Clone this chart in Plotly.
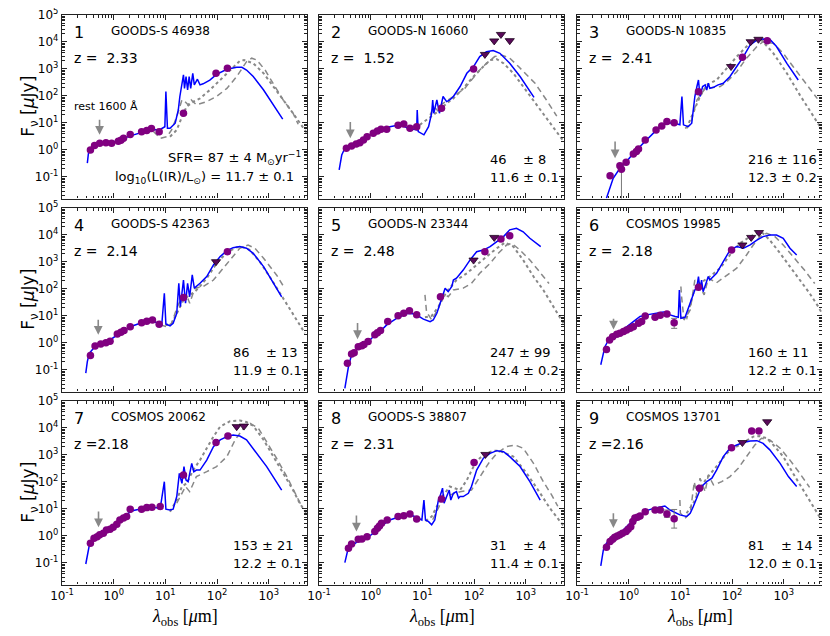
import numpy as np
import plotly.graph_objects as go

# Valeurs : (log10 lambda [um], log10 F_nu [uJy])
NAMES = ["GOODS-S 46938", "GOODS-N 16060", "GOODS-N 10835",
         "GOODS-S 42363", "GOODS-N 23344", "COSMOS 19985",
         "COSMOS 20062", "GOODS-S 38807", "COSMOS 13701"]
REDSHIFT = [2.33, 1.52, 2.41, 2.14, 2.48, 2.18, 2.18, 2.31, 2.16]
Z_GAP = [2, 2, 2, 2, 2, 2, 0, 2, 0]
SFR = [87, 46, 216, 86, 247, 160, 153, 31, 81]
SFR_ERR = [4, 8, 116, 13, 99, 11, 21, 4, 14]
LIR = [11.7, 11.6, 12.3, 11.9, 12.4, 12.2, 12.2, 11.4, 12.0]
LIR_ERR = [0.1, 0.1, 0.2, 0.1, 0.2, 0.1, 0.1, 0.1, 0.1]
ARROW_TOP = [1.17, 1.09, 0.37, 0.91, 0.79, 0.95, 0.96, 0.81, 0.90]
ARROW_TIP = [0.56, 0.43, -0.31, 0.30, 0.14, 0.50, 0.32, 0.16, 0.29]
X_EXP = [-1, 0, 1, 2, 3]
Y_EXP = [-1, 0, 1, 2, 3, 4, 5]
MINOR_EXP = [-2, -1, 0, 1, 2, 3, 4]
MINOR_MANT = [2, 3, 4, 5, 6, 7, 8, 9]

MODEL_1 = [(-0.51, -0.49), (-0.49, -0.15), (-0.45, 0.05), (-0.40, 0.12), (-0.36, 0.16), (-0.27, 0.22),
           (-0.14, 0.27), (0.06, 0.32), (0.32, 0.52), (0.51, 0.64), (0.70, 0.74), (0.90, 0.76),
           (0.99, 0.86), (1.01, 2.16), (1.04, 0.80), (1.09, 0.80), (1.19, 0.99), (1.25, 1.48),
           (1.28, 1.98), (1.35, 2.78), (1.37, 2.28), (1.40, 2.72), (1.43, 2.22), (1.46, 2.72),
           (1.49, 2.28), (1.53, 2.84), (1.56, 2.41), (1.62, 2.62), (1.67, 2.41), (1.73, 2.45),
           (1.86, 2.59), (1.99, 2.80), (2.19, 2.99), (2.38, 3.06), (2.48, 3.06), (2.57, 2.96),
           (2.70, 2.72), (2.90, 2.22), (3.09, 1.67), (3.27, 1.14)]
DASH_1 = [(0.77, 0.68), (0.90, 0.43), (1.03, 0.49), (1.12, 0.74), (1.22, 1.23), (1.32, 1.85),
          (1.38, 1.79), (1.44, 1.67), (1.50, 1.85), (1.60, 1.67), (1.80, 1.79), (1.99, 1.98),
          (2.19, 2.28), (2.38, 2.72), (2.57, 3.27), (2.67, 3.40), (2.77, 3.33), (2.93, 2.96),
          (3.12, 2.35), (3.28, 1.85), (3.47, 1.36), (3.57, 0.95)]
DOT_1 = [(1.09, 0.49), (1.22, 0.74), (1.32, 1.23), (1.41, 1.60), (1.54, 1.79), (1.67, 1.91),
         (1.86, 2.22), (2.06, 2.59), (2.25, 2.96), (2.44, 3.30), (2.52, 3.33), (2.62, 3.25),
         (2.70, 3.21), (2.90, 2.84), (3.09, 2.35), (3.28, 1.85), (3.47, 1.36), (3.74, 0.62)]
PHOT_1 = [(-0.45, 0.0), (-0.37, 0.16), (-0.27, 0.25), (-0.15, 0.27), (-0.04, 0.25), (0.09, 0.32),
          (0.14, 0.36), (0.19, 0.43), (0.32, 0.57), (0.54, 0.67), (0.64, 0.72), (0.73, 0.79),
          (0.88, 0.67), (1.35, 1.36), (1.98, 2.84), (2.20, 3.03)]
LIMIT_1 = []
ERRBAR_1 = []

MODEL_2 = [(-0.61, -0.74), (-0.59, -0.49), (-0.56, -0.19), (-0.50, 0.06), (-0.40, 0.12), (-0.21, 0.31),
           (-0.01, 0.56), (0.18, 0.74), (0.37, 0.86), (0.57, 0.93), (0.73, 0.80), (0.89, 0.74),
           (0.90, 1.48), (0.92, 0.68), (1.03, 0.56), (1.12, 0.86), (1.18, 1.36), (1.20, 1.85),
           (1.22, 1.36), (1.28, 1.85), (1.33, 1.36), (1.40, 1.98), (1.44, 1.85), (1.47, 1.79),
           (1.53, 1.85), (1.60, 1.98), (1.73, 2.35), (1.86, 2.84), (1.99, 3.09), (2.11, 3.46),
           (2.24, 3.64), (2.37, 3.68), (2.50, 3.58), (2.69, 3.21), (2.89, 2.72), (3.16, 1.95)]
DASH_2 = [(1.15, 1.30), (1.22, 1.60), (1.30, 1.45), (1.38, 1.70), (1.50, 1.85), (1.82, 2.28),
          (1.95, 2.59), (2.11, 2.96), (2.24, 3.21), (2.40, 3.46), (2.53, 3.52), (2.69, 3.40),
          (2.86, 3.09), (3.02, 2.78), (3.18, 2.47), (3.40, 1.85), (3.60, 1.25)]
DOT_2 = [(0.95, 0.93), (1.08, 1.11), (1.21, 1.30), (1.34, 1.48), (1.47, 1.73), (1.60, 1.91),
         (1.79, 2.28), (1.99, 2.72), (2.18, 3.09), (2.31, 3.33), (2.44, 3.36), (2.57, 3.21),
         (2.76, 2.84), (2.95, 2.35), (3.15, 1.85), (3.34, 1.36), (3.47, 0.99), (3.74, 0.30)]
PHOT_2 = [(-0.47, 0.06), (-0.37, 0.15), (-0.28, 0.22), (-0.21, 0.27), (-0.14, 0.37), (-0.07, 0.49),
          (0.05, 0.62), (0.13, 0.70), (0.20, 0.77), (0.31, 0.77), (0.53, 0.91), (0.64, 0.96),
          (0.76, 0.80), (0.89, 0.86), (1.37, 1.54), (1.99, 3.00)]
LIMIT_2 = [(2.21, 3.54), (2.39, 4.04), (2.52, 4.28), (2.69, 4.05)]
ERRBAR_2 = []

MODEL_3 = [(-0.43, -1.79), (-0.36, -1.36), (-0.30, -1.05), (-0.17, -0.68), (-0.04, -0.43), (0.09, -0.12),
           (0.22, 0.12), (0.35, 0.37), (0.54, 0.74), (0.74, 0.99), (0.86, 1.01), (0.99, 0.93),
           (1.03, 1.98), (1.06, 0.93), (1.15, 0.86), (1.22, 0.99), (1.25, 1.48), (1.28, 1.98),
           (1.32, 2.35), (1.35, 2.59), (1.38, 1.98), (1.43, 2.35), (1.48, 2.41), (1.51, 2.22),
           (1.54, 2.47), (1.57, 2.28), (1.64, 2.32), (1.73, 2.41), (1.83, 2.47), (1.96, 2.72),
           (2.09, 3.09), (2.22, 3.46), (2.35, 3.89), (2.48, 4.07), (2.60, 4.11), (2.73, 4.10),
           (2.86, 3.83), (3.06, 3.21), (3.28, 2.59)]
DASH_3 = [(1.09, 0.80), (1.19, 0.93), (1.32, 1.85), (1.48, 2.28), (1.77, 2.35), (1.90, 2.53),
          (2.09, 2.90), (2.28, 3.40), (2.48, 3.83), (2.60, 4.01), (2.80, 3.95), (2.99, 3.58),
          (3.18, 3.09), (3.45, 2.40), (3.65, 1.90)]
DOT_3 = [(1.12, 0.80), (1.25, 1.36), (1.38, 1.98), (1.51, 2.41), (1.70, 2.59), (1.90, 3.03),
         (2.09, 3.46), (2.28, 3.83), (2.44, 4.07), (2.57, 4.07), (2.80, 3.58), (3.06, 2.84),
         (3.31, 2.04), (3.64, 1.05), (3.74, 0.75)]
PHOT_3 = [(-0.36, -0.96), (-0.17, -0.59), (-0.14, -0.72), (-0.05, -0.46), (0.09, -0.15), (0.15, -0.06),
          (0.19, 0.03), (0.32, 0.37), (0.53, 0.74), (0.64, 0.89), (0.74, 1.05), (0.88, 1.01),
          (1.35, 2.16), (2.20, 3.43), (2.68, 4.05)]
LIMIT_3 = [(1.98, 3.09), (2.36, 4.01), (2.51, 4.10)]
ERRBAR_3 = [(-0.14, -0.72, -2.5, -0.56)]

MODEL_4 = [(-0.54, -1.12), (-0.51, -0.69), (-0.47, -0.38), (-0.39, -0.20), (-0.27, -0.04), (-0.07, 0.11),
           (0.12, 0.36), (0.32, 0.60), (0.51, 0.73), (0.70, 0.82), (0.83, 0.76), (0.93, 0.67),
           (0.98, 1.84), (1.01, 0.70), (1.09, 0.63), (1.15, 0.73), (1.22, 1.10), (1.26, 2.21),
           (1.29, 1.34), (1.35, 2.33), (1.39, 1.47), (1.43, 2.21), (1.47, 1.71), (1.52, 2.52),
           (1.56, 2.03), (1.67, 2.21), (1.80, 2.46), (1.93, 2.89), (2.06, 3.20), (2.19, 3.42),
           (2.31, 3.53), (2.44, 3.57), (2.57, 3.51), (2.70, 3.32), (2.90, 2.83), (3.09, 2.21),
           (3.25, 1.71)]
DASH_4 = [(0.90, 0.67), (1.03, 0.60), (1.12, 0.73), (1.22, 1.28), (1.32, 1.71), (1.41, 1.78),
          (1.47, 1.47), (1.57, 2.03), (1.73, 2.09), (1.93, 2.33), (2.12, 2.77), (2.31, 3.20),
          (2.44, 3.51), (2.60, 3.63), (2.73, 3.51), (2.90, 3.14), (3.15, 2.52), (3.30, 2.05)]
DOT_4 = [(1.00, 0.65), (1.12, 0.72), (1.25, 1.20), (1.35, 1.60), (1.45, 1.75), (1.57, 1.90),
         (1.67, 2.10), (1.80, 2.40), (1.99, 2.95), (2.19, 3.35), (2.38, 3.55), (2.50, 3.55),
         (2.63, 3.45), (2.83, 3.00), (3.02, 2.45), (3.25, 1.75), (3.41, 1.22), (3.57, 0.73),
         (3.70, 0.36)]
PHOT_4 = [(-0.45, -0.47), (-0.36, -0.11), (-0.25, -0.04), (-0.15, 0.01), (-0.07, 0.06), (0.07, 0.33),
          (0.14, 0.40), (0.20, 0.46), (0.32, 0.60), (0.54, 0.75), (0.64, 0.80), (0.75, 0.85),
          (0.88, 0.69), (1.35, 1.68), (2.20, 3.38)]
LIMIT_4 = [(1.98, 3.01)]
ERRBAR_4 = []

MODEL_5 = [(-0.50, -1.68), (-0.47, -1.25), (-0.43, -0.88), (-0.37, -0.44), (-0.27, -0.26), (-0.21, -0.14),
           (-0.08, -0.01), (0.05, 0.23), (0.18, 0.42), (0.31, 0.67), (0.50, 0.91), (0.70, 1.10),
           (0.86, 1.07), (1.02, 0.88), (1.15, 0.79), (1.21, 0.85), (1.28, 1.10), (1.34, 1.47),
           (1.41, 1.90), (1.44, 2.03), (1.50, 1.90), (1.57, 2.09), (1.60, 2.33), (1.66, 2.40),
           (1.79, 2.70), (1.92, 3.07), (2.05, 3.38), (2.18, 3.44), (2.31, 3.57), (2.44, 3.75),
           (2.57, 3.94), (2.69, 4.19), (2.82, 4.25), (2.95, 4.12), (3.08, 3.88), (3.29, 3.57)]
DASH_5 = [(1.05, 1.78), (1.08, 1.16), (1.18, 0.85), (1.31, 1.28), (1.41, 1.84), (1.50, 1.71),
          (1.60, 1.96), (1.79, 2.03), (1.95, 2.21), (2.11, 2.58), (2.31, 2.95), (2.47, 3.32),
          (2.63, 3.63), (2.73, 3.69), (2.89, 3.44), (3.08, 3.07), (3.24, 2.70), (3.45, 2.20)]
DOT_5 = [(1.05, 0.95), (1.18, 1.00), (1.31, 1.34), (1.47, 1.90), (1.66, 2.33), (1.86, 2.58),
         (2.05, 2.89), (2.24, 3.20), (2.44, 3.51), (2.60, 3.72), (2.76, 3.57), (2.95, 3.07),
         (3.15, 2.46), (3.34, 1.96), (3.53, 1.34), (3.73, 0.73)]
PHOT_5 = [(-0.45, -0.75), (-0.37, -0.41), (-0.32, -0.36), (-0.24, -0.14), (-0.17, -0.10), (-0.13, -0.06),
          (-0.05, 0.05), (0.08, 0.30), (0.13, 0.38), (0.19, 0.46), (0.33, 0.79), (0.53, 1.01),
          (0.64, 1.10), (0.75, 1.19), (0.89, 1.04), (1.35, 1.71), (2.21, 3.38), (2.52, 3.85),
          (2.69, 3.97)]
LIMIT_5 = [(1.99, 3.07), (2.39, 3.91)]
ERRBAR_5 = []

MODEL_6 = [(-0.54, -0.81), (-0.50, -0.51), (-0.46, -0.14), (-0.39, 0.11), (-0.30, 0.23), (-0.17, 0.42),
           (-0.04, 0.60), (0.09, 0.79), (0.22, 0.98), (0.35, 1.04), (0.54, 1.10), (0.67, 1.15),
           (0.74, 1.12), (0.80, 1.04), (0.90, 0.98), (0.96, 0.95), (0.98, 1.96), (1.01, 0.91),
           (1.09, 0.95), (1.15, 1.28), (1.22, 1.71), (1.28, 1.96), (1.32, 2.09), (1.35, 2.46),
           (1.38, 1.96), (1.41, 2.33), (1.44, 1.90), (1.51, 2.33), (1.54, 2.46), (1.57, 2.33),
           (1.64, 2.46), (1.70, 2.58), (1.83, 3.01), (1.96, 3.44), (2.09, 3.57), (2.22, 3.51),
           (2.35, 3.63), (2.48, 3.81), (2.60, 3.94), (2.73, 4.00), (2.86, 4.00), (2.99, 3.88),
           (3.12, 3.51), (3.25, 3.26)]
DASH_6 = [(1.01, 2.09), (1.02, 1.78), (1.07, 0.85), (1.19, 1.22), (1.28, 2.33), (1.38, 2.09),
          (1.46, 1.78), (1.54, 2.40), (1.70, 2.23), (1.90, 2.52), (2.09, 2.77), (2.28, 3.26),
          (2.41, 3.63), (2.54, 3.94), (2.67, 4.06), (2.83, 3.94), (2.99, 3.63), (3.18, 3.20),
          (3.40, 2.70), (3.60, 2.20)]
DOT_6 = [(1.00, 0.95), (1.12, 0.91), (1.25, 1.84), (1.38, 2.21), (1.57, 2.46), (1.77, 2.77),
         (1.96, 3.26), (2.15, 3.69), (2.35, 3.94), (2.51, 4.09), (2.60, 4.06), (2.73, 3.81),
         (2.93, 3.32), (3.12, 2.83), (3.31, 2.33), (3.50, 1.84), (3.67, 1.34), (3.77, 0.98)]
PHOT_6 = [(-0.43, -0.24), (-0.37, 0.11), (-0.31, 0.23), (-0.23, 0.32), (-0.17, 0.36), (-0.10, 0.42),
          (-0.04, 0.48), (0.03, 0.54), (0.09, 0.60), (0.19, 0.73), (0.25, 0.79), (0.32, 1.00),
          (0.51, 0.95), (0.61, 1.03), (0.74, 1.07), (0.88, 0.75), (1.35, 2.06), (1.99, 3.44)]
LIMIT_6 = [(2.20, 3.63), (2.37, 3.91), (2.52, 4.09)]
ERRBAR_6 = [(0.88, 0.75, 0.54, 0.91)]

MODEL_7 = [(-0.54, -1.04), (-0.51, -0.77), (-0.47, -0.33), (-0.39, -0.15), (-0.27, -0.03), (-0.14, 0.16),
           (-0.01, 0.34), (0.12, 0.59), (0.25, 0.81), (0.38, 0.94), (0.57, 1.02), (0.77, 1.06),
           (0.90, 1.02), (0.98, 2.01), (1.01, 0.99), (1.09, 0.96), (1.15, 0.99), (1.22, 1.46),
           (1.27, 2.32), (1.32, 1.95), (1.36, 2.57), (1.40, 2.07), (1.44, 2.01), (1.51, 2.69),
           (1.55, 2.38), (1.60, 2.44), (1.67, 2.44), (1.80, 2.81), (1.93, 3.31), (2.06, 3.56),
           (2.19, 3.68), (2.31, 3.74), (2.44, 3.70), (2.57, 3.56), (2.77, 3.06), (2.96, 2.57),
           (3.25, 1.70)]
DASH_7 = [(1.22, 1.21), (1.39, 1.83), (1.47, 1.64), (1.60, 2.20), (1.80, 2.38), (1.99, 2.57),
          (2.19, 2.94), (2.35, 3.56), (2.51, 3.99), (2.64, 4.17), (2.80, 3.99), (2.96, 3.49),
          (3.15, 2.88), (3.35, 2.20), (3.54, 1.46), (3.65, 1.05)]
DOT_7 = [(1.09, 0.90), (1.22, 1.33), (1.32, 1.83), (1.41, 1.95), (1.54, 2.44), (1.67, 2.81),
         (1.80, 3.25), (1.93, 3.68), (2.06, 4.05), (2.25, 4.25), (2.44, 4.28), (2.57, 4.22),
         (2.70, 4.08), (2.90, 3.56), (3.09, 2.94), (3.28, 2.32), (3.47, 1.70), (3.60, 1.21),
         (3.74, 0.80)]
PHOT_7 = [(-0.45, -0.27), (-0.38, -0.09), (-0.32, -0.03), (-0.27, 0.04), (-0.20, 0.10), (-0.14, 0.22),
          (-0.07, 0.25), (-0.01, 0.32), (0.06, 0.43), (0.12, 0.59), (0.19, 0.66), (0.25, 0.72),
          (0.32, 0.99), (0.54, 0.99), (0.64, 1.05), (0.74, 1.06), (0.90, 1.09), (1.35, 2.26),
          (1.98, 3.46), (2.21, 3.70)]
LIMIT_7 = [(2.38, 4.05), (2.52, 4.07)]
ERRBAR_7 = []

MODEL_8 = [(-0.50, -0.99), (-0.48, -0.77), (-0.45, -0.58), (-0.40, -0.46), (-0.34, -0.33), (-0.21, -0.15),
           (-0.08, -0.09), (0.05, 0.10), (0.18, 0.34), (0.37, 0.59), (0.57, 0.72), (0.76, 0.78),
           (0.89, 0.69), (0.99, 0.59), (1.03, 1.33), (1.06, 0.59), (1.12, 0.53), (1.18, 0.41),
           (1.24, 0.59), (1.31, 1.33), (1.34, 1.46), (1.39, 1.77), (1.42, 1.21), (1.47, 1.46),
           (1.52, 1.70), (1.55, 1.33), (1.60, 1.58), (1.66, 1.64), (1.70, 1.40), (1.73, 1.46),
           (1.79, 1.46), (1.89, 1.58), (1.95, 1.83), (2.05, 2.44), (2.18, 2.88), (2.31, 3.06),
           (2.44, 3.16), (2.57, 3.12), (2.69, 2.94), (2.89, 2.57), (3.08, 2.01), (3.28, 1.33)]
DASH_8 = [(1.20, 0.60), (1.35, 1.20), (1.50, 1.50), (1.73, 1.64), (1.95, 1.70), (2.11, 2.20),
          (2.28, 2.69), (2.44, 3.06), (2.63, 3.31), (2.79, 3.37), (2.95, 3.25), (3.15, 2.69),
          (3.34, 2.01), (3.50, 1.52), (3.62, 1.10)]
DOT_8 = [(1.06, 0.55), (1.18, 0.72), (1.28, 1.09), (1.41, 1.52), (1.53, 1.83), (1.73, 1.70),
         (1.86, 2.07), (1.99, 2.57), (2.11, 2.88), (2.24, 3.06), (2.37, 3.16), (2.50, 3.15),
         (2.76, 2.94), (3.02, 2.32), (3.28, 1.58), (3.47, 1.02), (3.74, 0.35)]
PHOT_8 = [(-0.43, -0.46), (-0.37, -0.30), (-0.24, -0.12), (-0.17, -0.11), (-0.07, -0.03), (0.08, 0.16),
          (0.13, 0.28), (0.17, 0.37), (0.21, 0.47), (0.32, 0.59), (0.53, 0.72), (0.64, 0.75),
          (0.76, 0.81), (0.89, 0.63), (1.37, 1.37), (2.00, 2.72)]
LIMIT_8 = [(2.22, 3.02)]
ERRBAR_8 = []

MODEL_9 = [(-0.54, -1.11), (-0.52, -0.83), (-0.49, -0.52), (-0.43, -0.27), (-0.33, -0.09), (-0.17, 0.10),
           (-0.04, 0.34), (0.09, 0.59), (0.22, 0.78), (0.35, 0.94), (0.48, 1.02), (0.61, 1.06),
           (0.70, 1.11), (0.80, 0.96), (0.90, 0.86), (0.99, 0.78), (1.12, 0.72), (1.19, 0.84),
           (1.25, 1.09), (1.32, 1.40), (1.38, 1.70), (1.44, 1.89), (1.51, 2.01), (1.61, 2.14),
           (1.70, 2.44), (1.83, 2.94), (1.96, 3.25), (2.09, 3.37), (2.22, 3.46), (2.35, 3.52),
           (2.48, 3.53), (2.60, 3.43), (2.73, 3.19), (2.93, 2.69), (3.09, 2.20), (3.25, 1.83)]
DASH_9 = [(0.99, 1.33), (1.00, 0.84), (1.09, 0.66), (1.19, 0.84), (1.27, 2.01), (1.32, 1.46),
          (1.38, 2.14), (1.48, 1.64), (1.54, 2.26), (1.64, 1.89), (1.80, 2.01), (1.96, 2.20),
          (2.12, 2.51), (2.28, 2.94), (2.44, 3.37), (2.57, 3.62), (2.73, 3.56), (2.93, 3.25),
          (3.12, 2.81), (3.31, 2.32), (3.50, 1.80)]
DOT_9 = [(1.12, 0.84), (1.25, 1.21), (1.38, 1.77), (1.51, 2.14), (1.64, 2.44), (1.77, 2.75),
         (1.90, 3.06), (2.02, 3.25), (2.15, 3.37), (2.28, 3.53), (2.41, 3.68), (2.54, 3.70),
         (2.67, 3.62), (2.80, 3.37), (2.99, 2.94), (3.18, 2.32), (3.38, 1.70), (3.57, 1.09),
         (3.73, 0.59)]
PHOT_9 = [(-0.43, -0.42), (-0.36, -0.21), (-0.31, -0.12), (-0.27, -0.05), (-0.22, 0.00), (-0.17, 0.04),
          (-0.12, 0.10), (-0.05, 0.16), (-0.01, 0.25), (0.04, 0.34), (0.08, 0.53), (0.12, 0.66),
          (0.17, 0.69), (0.22, 0.74), (0.32, 0.90), (0.51, 0.96), (0.61, 0.96), (0.74, 0.81),
          (0.88, 0.64), (1.37, 1.77), (1.99, 3.27), (2.38, 3.89), (2.52, 3.89)]
LIMIT_9 = [(2.20, 3.46), (2.68, 4.23)]
ERRBAR_9 = [(0.74, 0.81, 0.69, 0.96), (0.88, 0.64, 0.29, 0.98)]

MODELS = [MODEL_1, MODEL_2, MODEL_3, MODEL_4, MODEL_5, MODEL_6, MODEL_7, MODEL_8, MODEL_9]
DASHES = [DASH_1, DASH_2, DASH_3, DASH_4, DASH_5, DASH_6, DASH_7, DASH_8, DASH_9]
DOTS = [DOT_1, DOT_2, DOT_3, DOT_4, DOT_5, DOT_6, DOT_7, DOT_8, DOT_9]
PHOTS = [PHOT_1, PHOT_2, PHOT_3, PHOT_4, PHOT_5, PHOT_6, PHOT_7, PHOT_8, PHOT_9]
LIMITS = [LIMIT_1, LIMIT_2, LIMIT_3, LIMIT_4, LIMIT_5, LIMIT_6, LIMIT_7, LIMIT_8, LIMIT_9]
ERRBARS = [ERRBAR_1, ERRBAR_2, ERRBAR_3, ERRBAR_4, ERRBAR_5, ERRBAR_6, ERRBAR_7, ERRBAR_8, ERRBAR_9]

# Mise en page, en pixels de la page (la page HTML ajoute une marge de 8 px)
PAGE = 8
W, H = 830 - PAGE, 636 - PAGE
COLS = [(62, 307), (319, 564), (577, 822)]
ROWS = [(15, 198.5), (208, 391.5), (401, 584.5)]
FONT = "DejaVu Sans"
NBSP = "\u00a0"


def px_x(p):
    return (p - PAGE) / W


def px_y(p):
    return 1 - (p - PAGE) / H


def lin(pts, k):
    return 10 ** np.array([p[k] for p in pts], dtype=float)


def sup(e):
    return f"10<sup>{e}</sup>"


minor_vals = [m * 10.0 ** e for e in MINOR_EXP for m in MINOR_MANT]

fig = go.Figure()
annotations = []
layout = {}

for i in range(9):
    r, c = divmod(i, 3)
    n = "" if i == 0 else str(i + 1)
    xa, ya = "x" + n, "y" + n

    common = dict(showline=True, linecolor="#222", linewidth=1.3, mirror="allticks",
                  ticks="inside", ticklen=5, tickcolor="#222", showgrid=False,
                  zeroline=False, type="log", tickmode="array", ticklabeloverflow="allow",
                  tickfont=dict(family=FONT, size=12, color="black"),
                  minor=dict(ticks="inside", ticklen=2.5, tickcolor="#222", showgrid=False,
                             tickmode="array", tickvals=minor_vals))
    layout["xaxis" + n] = dict(common, domain=[px_x(COLS[c][0]), px_x(COLS[c][1])],
                               range=[-1, 3.74], anchor=ya, showticklabels=(r == 2),
                               tickvals=[10.0 ** e for e in X_EXP],
                               ticktext=[sup(e) for e in X_EXP])
    layout["yaxis" + n] = dict(common, domain=[px_y(ROWS[r][1]), px_y(ROWS[r][0])],
                               range=[-1.8, 5], anchor=xa, showticklabels=(c == 0),
                               tickvals=[10.0 ** e for e in Y_EXP],
                               ticktext=[sup(e) for e in Y_EXP])

    fig.add_trace(go.Scatter(x=lin(DOTS[i], 0), y=lin(DOTS[i], 1), mode="lines",
                             line=dict(color="#888", width=2, dash="dot"),
                             xaxis=xa, yaxis=ya, showlegend=False))
    fig.add_trace(go.Scatter(x=lin(DASHES[i], 0), y=lin(DASHES[i], 1), mode="lines",
                             line=dict(color="#888", width=1.5, dash="6px,4px"),
                             xaxis=xa, yaxis=ya, showlegend=False))
    fig.add_trace(go.Scatter(x=lin(MODELS[i], 0), y=lin(MODELS[i], 1), mode="lines",
                             line=dict(color="#0000ff", width=1.5),
                             xaxis=xa, yaxis=ya, showlegend=False))
    if ERRBARS[i]:
        eb = ERRBARS[i]
        yv = lin(eb, 1)
        fig.add_trace(go.Scatter(
            x=lin(eb, 0), y=yv, mode="markers", marker=dict(size=1, color="rgba(0,0,0,0)"),
            error_y=dict(type="data", symmetric=False, array=lin(eb, 3) - yv,
                         arrayminus=yv - lin(eb, 2), color="#777", thickness=1, width=3),
            xaxis=xa, yaxis=ya, showlegend=False))
    fig.add_trace(go.Scatter(x=lin(PHOTS[i], 0), y=lin(PHOTS[i], 1), mode="markers",
                             marker=dict(color="#800080", size=7.5),
                             xaxis=xa, yaxis=ya, showlegend=False))
    if LIMITS[i]:
        fig.add_trace(go.Scatter(x=lin(LIMITS[i], 0), y=lin(LIMITS[i], 1), mode="markers",
                                 marker=dict(symbol="triangle-down", color="#5a0a5a", size=8,
                                             line=dict(color="#1a001a", width=0.8)),
                                 xaxis=xa, yaxis=ya, showlegend=False))

    # flèche rest 1600 A
    xarr = np.log10(0.16 * (1 + REDSHIFT[i]))
    annotations.append(dict(x=xarr, y=ARROW_TIP[i], ax=xarr, ay=ARROW_TOP[i],
                            xref=xa, yref=ya, axref=xa, ayref=ya, text="",
                            showarrow=True, arrowhead=2, arrowsize=1.1,
                            arrowwidth=1.6, arrowcolor="#888"))

    dx, dy = xa + " domain", ya + " domain"
    txt = dict(xref=dx, yref=dy, showarrow=False, xanchor="left", yanchor="middle")
    annotations.append(dict(txt, x=0.04, y=0.905, text=str(i + 1),
                            font=dict(family=FONT, size=16, color="black")))
    annotations.append(dict(txt, x=0.19, y=0.915, text=NAMES[i],
                            font=dict(family=FONT, size=12, color="black")))
    annotations.append(dict(txt, x=0.04, y=0.765,
                            text="z =" + NBSP * Z_GAP[i] + f"{REDSHIFT[i]:.2f}",
                            font=dict(family=FONT, size=14, color="black")))
    if i == 0:
        annotations.append(dict(txt, x=0.04, y=0.50, text="rest 1600 Å",
                                font=dict(family=FONT, size=11, color="black")))
        annotations.append(dict(txt, x=0.985, y=0.22, xanchor="right",
                                text=f"SFR= {SFR[i]} ± {SFR_ERR[i]} M<sub>⊙</sub>yr<sup>−1</sup>",
                                font=dict(family=FONT, size=13, color="black")))
        annotations.append(dict(txt, x=0.955, y=0.112, xanchor="right",
                                text=f"log<sub>10</sub>(L(IR)/L<sub>⊙</sub>) = {LIR[i]:.1f} ± {LIR_ERR[i]}",
                                font=dict(family=FONT, size=13, color="black")))
    else:
        pad = NBSP * (4 if SFR[i] < 100 else 1)
        annotations.append(dict(txt, x=0.69, y=0.213, text=f"{SFR[i]}{pad}± {SFR_ERR[i]}",
                                font=dict(family=FONT, size=13, color="black")))
        annotations.append(dict(txt, x=0.69, y=0.112, text=f"{LIR[i]:.1f} ± {LIR_ERR[i]}",
                                font=dict(family=FONT, size=13, color="black")))

for r in range(3):
    yc = px_y((ROWS[r][0] + ROWS[r][1]) / 2)
    annotations.append(dict(xref="paper", yref="paper", x=px_x(30), y=yc, showarrow=False,
                            xanchor="center", yanchor="middle",
                            textangle=-90, text="F<sub>ν</sub> [<i>μ</i>Jy]",
                            font=dict(family=FONT, size=17, color="black")))
for c in range(3):
    xc = px_x((COLS[c][0] + COLS[c][1]) / 2)
    annotations.append(dict(xref="paper", yref="paper", x=xc, y=px_y(617), showarrow=False,
                            xanchor="center", yanchor="middle",
                            text="<i>λ</i><sub>obs</sub> [<i>μ</i>m]",
                            font=dict(family="Liberation Serif", size=18, color="black")))

fig.update_layout(**layout)
fig.update_layout(
    width=W, height=H,
    margin=dict(l=0, r=0, t=0, b=0, autoexpand=False),
    paper_bgcolor="white", plot_bgcolor="white",
    annotations=annotations,
    showlegend=False,
)
fig.write_html("out.html")
